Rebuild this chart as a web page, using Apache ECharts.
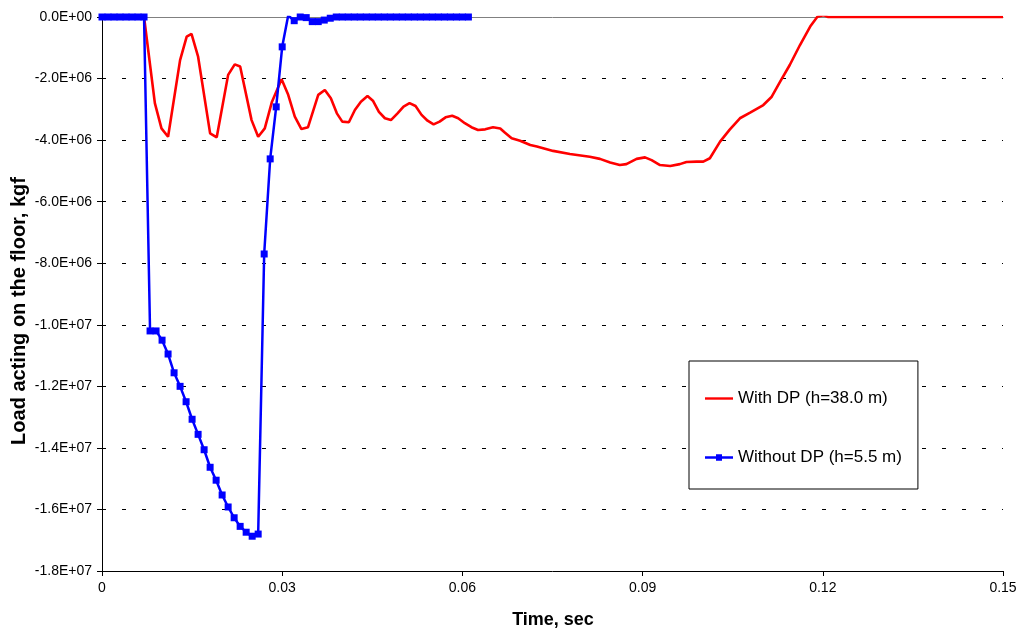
<!DOCTYPE html>
<html>
<head>
<meta charset="utf-8">
<script src="https://cdn.jsdelivr.net/npm/echarts@6/dist/echarts.min.js"></script>
<style>
  html, body { margin: 0; padding: 0; background: #fff; }
  #chart { width: 1021px; height: 630px; }
</style>
</head>
<body>
<div id="chart"></div>
<script>
// time (sec) and load (millions of kgf)
var timeRed = [0, 0.007, 0.0088, 0.0099, 0.0110, 0.0130, 0.0141, 0.0149, 0.0160, 0.0180, 0.0191,
  0.0210, 0.0221, 0.0230, 0.0249, 0.0260, 0.0271, 0.0283, 0.0299, 0.0310, 0.0321, 0.0332, 0.0343,
  0.0360, 0.0371, 0.0381, 0.0391, 0.0400, 0.0411, 0.0421, 0.0431, 0.0442, 0.0451, 0.0461, 0.0471,
  0.0481, 0.0492, 0.0502, 0.0512, 0.0522, 0.0532, 0.0542, 0.0552, 0.0562, 0.0572, 0.0583, 0.0593,
  0.0604, 0.0615, 0.0626, 0.0638, 0.0651, 0.0663, 0.0671, 0.0682, 0.0696, 0.0713, 0.0724, 0.0751,
  0.0779, 0.0812, 0.0829, 0.0846, 0.0862, 0.0873, 0.0890, 0.0904, 0.0915, 0.0929, 0.0946, 0.0962,
  0.0973, 0.0990, 0.1001, 0.1012, 0.1029, 0.1045, 0.1062, 0.1079, 0.1101, 0.1115, 0.1129, 0.1145,
  0.1162, 0.1179, 0.1191, 0.1201, 0.1209, 0.1212, 0.1220, 0.15];
var loadRed = [0, 0, -2.8, -3.62, -3.89, -1.40, -0.64, -0.55, -1.29, -3.78, -3.91,
  -1.88, -1.54, -1.61, -3.35, -3.89, -3.62, -2.75, -2.02, -2.53, -3.24, -3.64, -3.58,
  -2.53, -2.37, -2.64, -3.13, -3.40, -3.42, -3.02, -2.75, -2.57, -2.72, -3.08, -3.29,
  -3.35, -3.13, -2.91, -2.80, -2.89, -3.18, -3.37, -3.49, -3.40, -3.26, -3.21, -3.29,
  -3.45, -3.58, -3.67, -3.65, -3.58, -3.62, -3.76, -3.94, -4.02, -4.16, -4.21, -4.35,
  -4.45, -4.54, -4.61, -4.73, -4.81, -4.78, -4.61, -4.56, -4.65, -4.81, -4.84, -4.78,
  -4.71, -4.70, -4.70, -4.59, -4.05, -3.66, -3.29, -3.11, -2.86, -2.59, -2.10, -1.56,
  -0.91, -0.31, 0.01, 0.06, 0, -0.04, 0, 0];

var timeBlue = [0, 0.001, 0.002, 0.003, 0.004, 0.005, 0.006, 0.007, 0.008, 0.009, 0.010,
  0.011, 0.012, 0.013, 0.014, 0.015, 0.016, 0.017, 0.018, 0.019, 0.020, 0.021, 0.022,
  0.023, 0.024, 0.025, 0.026, 0.027, 0.028, 0.029, 0.030, 0.031, 0.032, 0.033, 0.034,
  0.035, 0.036, 0.037, 0.038, 0.039, 0.040, 0.041, 0.042, 0.043, 0.044, 0.045, 0.046,
  0.047, 0.048, 0.049, 0.050, 0.051, 0.052, 0.053, 0.054, 0.055, 0.056, 0.057, 0.058,
  0.059, 0.060, 0.061];
var loadBlue = [0, 0, 0, 0, 0, 0, 0, 0, -10.2, -10.2, -10.5,
  -10.95, -11.56, -12.0, -12.5, -13.07, -13.56, -14.06, -14.63, -15.05, -15.53, -15.92, -16.27,
  -16.55, -16.74, -16.87, -16.80, -7.7, -4.61, -2.92, -0.97, 0.05, -0.12, 0, -0.02,
  -0.15, -0.15, -0.10, -0.04, 0, 0, 0, 0, 0, 0, 0, 0,
  0, 0, 0, 0, 0, 0, 0, 0, 0, 0, 0, 0,
  0, 0, 0];

var xTickLabels = ['0', '0.03', '0.06', '0.09', '0.12', '0.15'];
var yTickLabels = ['0.0E+00', '-2.0E+06', '-4.0E+06', '-6.0E+06', '-8.0E+06', '-1.0E+07',
  '-1.2E+07', '-1.4E+07', '-1.6E+07', '-1.8E+07'];

var font = 'Arial, "Liberation Sans", sans-serif';

function pairs(xs, ys) {
  return xs.map(function (x, i) { return [x, ys[i] * 1e6]; });
}

var chart = echarts.init(document.getElementById('chart'));

var option = {
  animation: false,
  backgroundColor: '#fff',
  grid: { left: 102, right: 18, top: 17, bottom: 59 },
  legend: {
    orient: 'vertical',
    left: 689,
    top: 361,
    padding: [29, 16, 23, 16],
    itemWidth: 28,
    itemHeight: 14,
    itemGap: 42,
    backgroundColor: '#fff',
    borderColor: '#000',
    borderWidth: 1,
    borderRadius: 0,
    textStyle: { fontFamily: font, fontSize: 17, color: '#000' },
    data: [
      { name: 'With DP (h=38.0 m)', icon: 'path://M0,0 H28 V2.4 H0 Z' },
      { name: 'Without DP (h=5.5 m)', icon: 'path://M0,2.5 H28 V4.8 H0 Z M11,0.5 H17 V6.8 H11 Z' }
    ]
  },
  xAxis: [{
    type: 'value',
    min: 0,
    max: 0.15,
    interval: 0.03,
    axisLine: { onZero: false, lineStyle: { color: '#000', width: 1 } },
    axisTick: { show: true, length: 5, lineStyle: { color: '#000' } },
    axisLabel: {
      margin: 10,
      fontFamily: font,
      fontSize: 14,
      color: '#000',
      formatter: function (v) { return xTickLabels[Math.round(v / 0.03)]; }
    },
    splitLine: { show: false }
  }, {
    type: 'value',
    position: 'top',
    min: 0,
    max: 0.15,
    axisLine: { show: true, onZero: false, lineStyle: { color: '#808080', width: 1 } },
    axisTick: { show: false },
    axisLabel: { show: false },
    splitLine: { show: false }
  }],
  yAxis: {
    type: 'value',
    min: -18e6,
    max: 0,
    interval: 2e6,
    axisLine: { show: true, onZero: false, lineStyle: { color: '#000', width: 1 } },
    axisTick: { show: true, length: 5, lineStyle: { color: '#000' } },
    axisLabel: {
      margin: 10,
      fontFamily: font,
      fontSize: 14,
      color: '#000',
      formatter: function (v) { return yTickLabels[Math.round(-v / 2e6)]; }
    },
    splitLine: {
      show: true,
      lineStyle: { color: '#000', width: 1, type: [4, 16] }
    }
  },
  graphic: [{
    type: 'text',
    x: 553,
    y: 620,
    style: {
      text: 'Time, sec',
      font: 'bold 18px ' + font,
      fill: '#000',
      align: 'center',
      verticalAlign: 'middle'
    }
  }, {
    type: 'text',
    x: 19,
    y: 311,
    rotation: Math.PI / 2,
    style: {
      text: 'Load acting on the floor, kgf',
      font: 'bold 20px ' + font,
      fill: '#000',
      align: 'center',
      verticalAlign: 'middle'
    }
  }],
  series: [{
    name: 'With DP (h=38.0 m)',
    type: 'line',
    symbol: 'none',
    smooth: false,
    lineStyle: { color: '#ff0000', width: 2.6 },
    itemStyle: { color: '#ff0000' },
    data: pairs(timeRed, loadRed)
  }, {
    name: 'Without DP (h=5.5 m)',
    type: 'line',
    symbol: 'rect',
    symbolSize: 7,
    showAllSymbol: true,
    lineStyle: { color: '#0000ff', width: 2.5 },
    itemStyle: { color: '#0000ff' },
    data: pairs(timeBlue, loadBlue)
  }]
};

chart.setOption(option);

window.onresize = function () {
  chart.resize();
};
</script>
</body>
</html>
